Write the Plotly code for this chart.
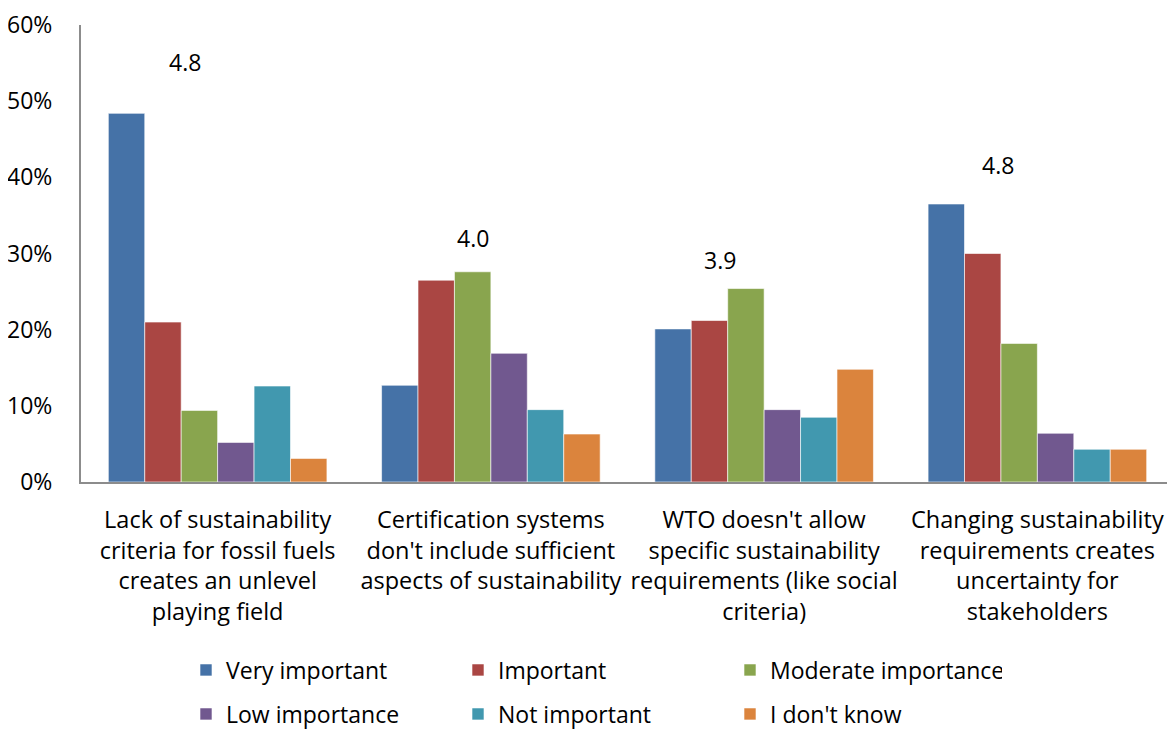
import plotly.graph_objects as go

categories = [
    "Lack of sustainability<br>criteria for fossil fuels<br>creates an unlevel<br>playing field",
    "Certification systems<br>don't include sufficient<br>aspects of sustainability",
    "WTO doesn't allow<br>specific sustainability<br>requirements (like social<br>criteria)",
    "Changing sustainability<br>requirements creates<br>uncertainty for<br>stakeholders",
]
series_names = ["Very important", "Important", "Moderate importance",
                "Low importance", "Not important", "I don't know"]
very_important = [48.4, 12.7, 20.1, 36.5]
important = [21.0, 26.5, 21.2, 30.0]
moderate_importance = [9.4, 27.6, 25.4, 18.2]
low_importance = [5.2, 16.9, 9.5, 6.4]
not_important = [12.6, 9.5, 8.5, 4.3]
dont_know = [3.1, 6.3, 14.8, 4.3]
series_values = [very_important, important, moderate_importance,
                 low_importance, not_important, dont_know]

score_labels = ["4.8", "4.0", "3.9", "4.8"]
score_label_x_offset = [-0.12, -0.066, -0.161, -0.143]
score_label_y = [55.2, 32.1, 29.2, 41.6]

colors = ["#4572A7", "#AA4643", "#89A54E", "#71588F", "#4198AF", "#DB843D"]
FONT = "Open Sans"

# The page body has a default 8px margin, so the figure is sized to fit the window.
W, H = 1167, 721

fig = go.Figure()
for i, (name, vals) in enumerate(zip(series_names, series_values)):
    fig.add_trace(go.Bar(
        x=categories, y=vals, name=name,
        marker=dict(color=colors[i], line=dict(color="rgba(255,255,255,0.6)", width=1)),
        legend="legend" if i < 3 else "legend2",
        hoverinfo="skip",
    ))

for i, (lab, dx, yv) in enumerate(zip(score_labels, score_label_x_offset, score_label_y)):
    fig.add_annotation(x=i + dx, y=yv, xref="x", yref="y", text=lab,
                       showarrow=False, font=dict(family=FONT, size=23, color="#000"))

legend_common = dict(orientation="h", xref="container", yref="container",
                     xanchor="left", yanchor="middle",
                     font=dict(family=FONT, size=23, color="#000"),
                     entrywidthmode="pixels", entrywidth=227,
                     bgcolor="rgba(0,0,0,0)", itemclick=False, itemdoubleclick=False)

fig.update_layout(
    width=W, height=H,
    margin=dict(l=73, r=1, t=17, b=247),
    paper_bgcolor="white", plot_bgcolor="white",
    barmode="group", bargap=0.2, bargroupgap=0,
    font=dict(family=FONT, size=23, color="#000"),
    showlegend=True,
    legend=dict(x=178 / W, y=1 - 662 / H, **legend_common),
    legend2=dict(x=178 / W, y=1 - 706 / H, **legend_common),
    xaxis=dict(showline=True, linecolor="#8C8C8C", linewidth=2, ticks="",
               showgrid=False, tickfont=dict(family=FONT, size=23.5, color="#000"),
               ticklabelstandoff=16, fixedrange=True, automargin=False),
    yaxis=dict(range=[0, 60], dtick=10, ticksuffix="%", showline=True,
               linecolor="#8C8C8C", linewidth=2, ticks="", showgrid=False,
               zeroline=False, tickfont=dict(family=FONT, size=23, color="#000"),
               ticklabelstandoff=22, fixedrange=True, automargin=False),
)

fig.write_html("out.html")
